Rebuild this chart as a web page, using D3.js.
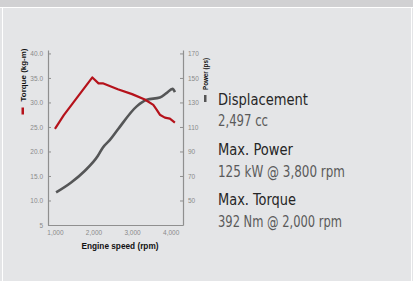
<!DOCTYPE html>
<html>
<head>
<meta charset="utf-8">
<script src="https://cdn.jsdelivr.net/npm/d3@7"></script>
<style>
  body { margin: 0; background: #e4e5e7; }
  svg { display: block; }
</style>
</head>
<body>
<div id="chart"></div>
<script>
const width = 413,
    height = 281;

// torque curve (kg-m)
const torqueRpm = [1000, 1230, 1470, 1720, 1970, 2130, 2240, 2630, 3000, 3330, 3550, 3640, 3720, 3850, 3980, 4110];
const torque = [24.6, 27.4, 29.9, 32.5, 35.1, 33.9, 33.9, 32.7, 31.7, 30.6, 29.5, 28.5, 27.5, 26.9, 26.7, 25.9];

// power curve (ps)
const powerRpm = [1030, 1420, 1770, 2110, 2240, 2420, 2630, 3120, 3380, 3720, 3890, 4050, 4110];
const power = [56.6, 64.7, 74.1, 86.3, 93.1, 99.2, 107.9, 126.8, 132.2, 134.0, 137.6, 141.1, 138.4];

const rpmTicks = [1000, 2000, 3000, 4000];
const torqueTicks = [5, 10, 15, 20, 25, 30, 35, 40];
const powerTicks = [50, 70, 90, 110, 130, 150, 170];

const specTitles = ["Displacement", "Max. Power", "Max. Torque"];
const specValues = ["2,497 cc", "125 kW @ 3,800 rpm", "392 Nm @ 2,000 rpm"];

const svg = d3.select("#chart")
    .append("svg")
    .attr("width", width)
    .attr("height", height);

// panel frame
svg.append("rect").attr("width", width).attr("height", height).attr("fill", "#e4e5e7");
svg.append("rect").attr("width", width).attr("height", 7).attr("fill", "#d1d1d3");
svg.append("line").attr("x1", 0).attr("x2", width).attr("y1", 7.5).attr("y2", 7.5)
    .attr("stroke", "#fff");
svg.append("line").attr("x1", 2.5).attr("x2", 2.5).attr("y1", 7).attr("y2", height)
    .attr("stroke", "#fff");
svg.append("line").attr("x1", 411.5).attr("x2", 411.5).attr("y1", 7).attr("y2", height)
    .attr("stroke", "#fff");

let x = d3.scaleLinear()
    .domain([820, 4320])
    .range([48, 183]);

let yT = d3.scaleLinear()
    .domain([5, 40.7])
    .range([225, 50]);

let yP = d3.scaleLinear()
    .domain([30, 30 + 35.7 * 4])
    .range([225, 50]);

const axisStyle = g => {
    g.selectAll("path.domain").attr("stroke", "#8f8f8f").attr("stroke-width", 1.2);
    g.selectAll(".tick line").attr("stroke", "#8f8f8f");
    g.selectAll(".tick text")
      .attr("fill", "#8a8a8a")
      .attr("font-family", "Liberation Sans, Arial, sans-serif")
      .attr("font-size", "6.5px");
};

svg.append("g")
    .attr("transform", `translate(${x.range()[0]},0)`)
    .call(d3.axisLeft(yT)
      .tickValues(torqueTicks)
      .tickFormat(d => d === 5 ? "5" : d.toFixed(1))
      .tickSize(-3)
      .tickSizeOuter(0)
      .tickPadding(5))
    .call(axisStyle);

svg.append("g")
    .attr("transform", `translate(${x.range()[1]},0)`)
    .call(d3.axisRight(yP)
      .tickValues(powerTicks)
      .tickSize(-3)
      .tickSizeOuter(0)
      .tickPadding(5))
    .call(axisStyle);

svg.append("g")
    .attr("transform", `translate(0,${yT(5)})`)
    .call(d3.axisBottom(x)
      .tickValues(rpmTicks)
      .tickFormat(d3.format(","))
      .tickSize(0)
      .tickSizeOuter(0)
      .tickPadding(5))
    .call(axisStyle);

// axis titles
svg.append("text")
    .attr("transform", "translate(25.5,75) rotate(-90)")
    .attr("text-anchor", "middle")
    .attr("font-family", "Liberation Sans, Arial, sans-serif")
    .attr("font-weight", "bold")
    .attr("font-size", "8px")
    .attr("textLength", 53)
    .attr("lengthAdjust", "spacingAndGlyphs")
    .attr("fill", "#111")
    .text("Torque (kg-m)");

svg.append("rect")
    .attr("x", 21.5).attr("y", 107.5).attr("width", 2.5).attr("height", 7)
    .attr("fill", "#b5121b");

svg.append("text")
    .attr("transform", "translate(207.5,74) rotate(-90)")
    .attr("text-anchor", "middle")
    .attr("font-family", "Liberation Sans, Arial, sans-serif")
    .attr("font-weight", "bold")
    .attr("font-size", "7.5px")
    .attr("textLength", 32)
    .attr("lengthAdjust", "spacingAndGlyphs")
    .attr("fill", "#111")
    .text("Power (ps)");

svg.append("rect")
    .attr("x", 204).attr("y", 95).attr("width", 2.5).attr("height", 7)
    .attr("fill", "#555");

svg.append("text")
    .attr("x", 120)
    .attr("y", 249)
    .attr("text-anchor", "middle")
    .attr("font-family", "Liberation Sans, Arial, sans-serif")
    .attr("font-weight", "bold")
    .attr("font-size", "8.3px")
    .attr("textLength", 77)
    .attr("lengthAdjust", "spacingAndGlyphs")
    .attr("fill", "#111")
    .text("Engine speed (rpm)");

// curves
let torqueLine = d3.line()
    .x((d, i) => x(torqueRpm[i]))
    .y(d => yT(d));

let powerLine = d3.line()
    .x((d, i) => x(powerRpm[i]))
    .y(d => yP(d))
    .curve(d3.curveMonotoneX);

svg.append("path")
    .datum(power)
    .attr("d", powerLine)
    .attr("fill", "none")
    .attr("stroke", "#555657")
    .attr("stroke-width", 2.6)
    .attr("stroke-linejoin", "round");

svg.append("path")
    .datum(torque)
    .attr("d", torqueLine)
    .attr("fill", "none")
    .attr("stroke", "#b5121b")
    .attr("stroke-width", 2.2)
    .attr("stroke-linejoin", "round");

// spec list
const titleLen = [90, 75, 78],
    valueLen = [50, 127, 124];

const specs = svg.append("g")
    .attr("font-family", "Liberation Sans Narrow, DejaVu Sans Condensed, Liberation Sans, sans-serif")
    .attr("font-size", "15.5px");

specs.selectAll("text.title")
    .data(specTitles)
    .join("text")
      .attr("class", "title")
      .attr("x", 218)
      .attr("y", (d, i) => 105 + i * 50)
      .attr("fill", "#262626")
      .attr("textLength", (d, i) => titleLen[i])
      .attr("lengthAdjust", "spacingAndGlyphs")
      .text(d => d);

specs.selectAll("text.value")
    .data(specValues)
    .join("text")
      .attr("class", "value")
      .attr("x", 218)
      .attr("y", (d, i) => 126 + i * 50.5)
      .attr("fill", "#5a5a5a")
      .attr("textLength", (d, i) => valueLen[i])
      .attr("lengthAdjust", "spacingAndGlyphs")
      .text(d => d);
</script>
</body>
</html>
